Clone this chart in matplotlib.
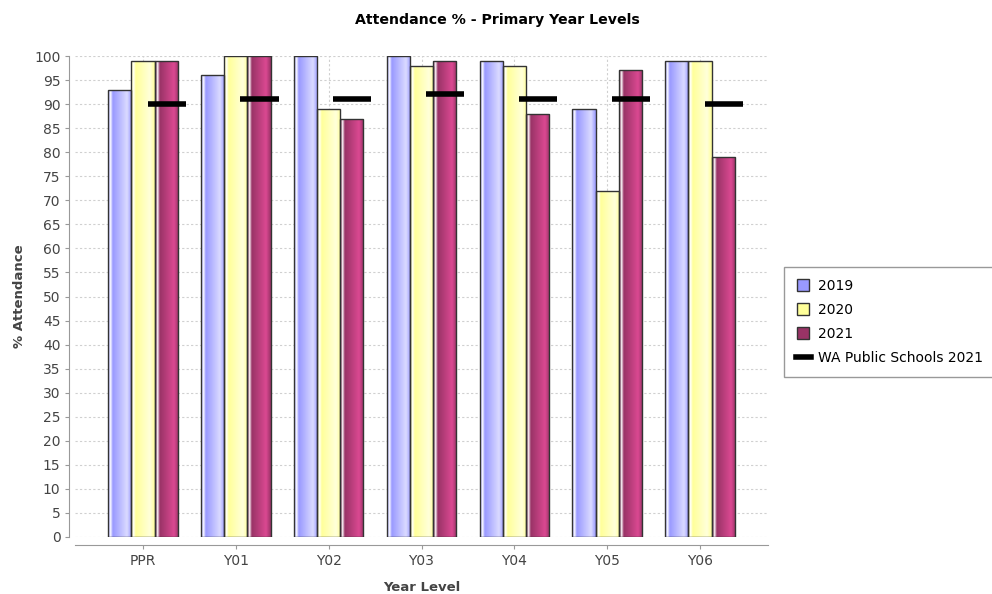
import numpy as np
import matplotlib
matplotlib.use("Agg")
import matplotlib.pyplot as plt
from matplotlib.lines import Line2D
from matplotlib.colors import to_rgb

# data
yearLevels = ["PPR", "Y01", "Y02", "Y03", "Y04", "Y05", "Y06"]
att2019 = [93, 96, 100, 100, 99, 89, 99]
att2020 = [99, 100, 89, 98, 98, 72, 99]
att2021 = [99, 100, 87, 99, 88, 97, 79]
waPublic2021 = [90, 91, 91, 92, 91, 91, 90]

seriesNames = ["2019", "2020", "2021"]
seriesColors = ["#9999FF", "#FFFF99", "#993366"]

plt.rcParams["font.family"] = ["DejaVu Sans"]


def brighter(c):
    # same idea as java.awt.Color.brighter()
    return tuple(min(v / 0.7, 1.0) for v in c)


def gradientStrip(color, n=100):
    c0 = np.array(to_rgb(color))
    c1 = np.array(brighter(c0))
    white = np.ones(3)
    t = np.linspace(0, 1, n)
    out = np.zeros((1, n, 3))
    for i, f in enumerate(t):
        if f < 0.1:
            k = f / 0.1
            col = c0 + (white - c0) * k
        elif f < 0.2:
            k = (f - 0.1) / 0.1
            col = white + (c0 - white) * k
        elif f < 0.8:
            k = (f - 0.2) / 0.6
            col = c0 + (c1 - c0) * k
        else:
            k = (f - 0.8) / 0.2
            col = c1 + (c0 - c1) * k
        out[0, i] = col
    return out


fig = plt.figure(figsize=(9.92, 5.94), dpi=100)
ax = fig.add_axes([75 / 992, 1 - 537 / 594, (768 - 75) / 992, (537 - 56) / 594])

x = np.arange(len(yearLevels))
width = 0.25
allSeries = [att2019, att2020, att2021]
for i, vals in enumerate(allSeries):
    rects = ax.bar(x + (i - 1) * width, vals, width, facecolor="none",
                   edgecolor="#333333", linewidth=1.0, zorder=3)
    strip = gradientStrip(seriesColors[i])
    for r in rects:
        im = ax.imshow(strip, extent=[r.get_x(), r.get_x() + r.get_width(), 0, r.get_height()],
                       aspect="auto", zorder=2.5, interpolation="bilinear")
        im.set_clip_path(r)

# WA public schools level marks
for i, v in enumerate(waPublic2021):
    ax.plot([x[i] + 0.05, x[i] + 0.46], [v, v], color="black", linewidth=4,
            solid_capstyle="butt", zorder=4)

ax.set_xlim(-0.733, 6.733)
ax.set_ylim(0, 100)
ax.set_yticks(np.arange(0, 101, 5))
ax.set_xticks(x)
ax.set_xticklabels(yearLevels)

ax.grid(True, axis="both", color="#d0d0d0", linestyle=(0, (2, 2)), linewidth=0.8, zorder=0)
ax.set_axisbelow(True)

for s in ["top", "right"]:
    ax.spines[s].set_visible(False)
ax.spines["left"].set_position(("outward", 4))
ax.spines["bottom"].set_position(("outward", 6))
ax.spines["left"].set_color("#999999")
ax.spines["bottom"].set_color("#999999")
ax.tick_params(axis="both", colors="#999999", labelcolor="#444444", labelsize=10, length=3)

ax.set_ylabel("% Attendance", fontsize=9.5, fontweight="bold", color="#444444", labelpad=6)
ax.set_xlabel("Year Level", fontsize=9.5, fontweight="bold", color="#444444", labelpad=9)
fig.suptitle("Attendance % - Primary Year Levels", fontsize=10.2, fontweight="bold",
             x=497 / 992, y=1 - 20 / 594, va="center")

handles = []
for i, name in enumerate(seriesNames):
    handles.append(Line2D([], [], linestyle="none", marker="s", markersize=8,
                          markerfacecolor=seriesColors[i], markeredgecolor="#333333"))
handles.append(Line2D([], [], color="black", linewidth=4))
leg = fig.legend(handles, seriesNames + ["WA Public Schools 2021"],
                 loc="upper left", bbox_to_anchor=(784 / 992, 1 - 267 / 594),
                 borderaxespad=0, fancybox=False, fontsize=10, handlelength=1.1,
                 handletextpad=0.5, labelspacing=0.72, borderpad=0.85, framealpha=1)
leg.get_frame().set_edgecolor("#999999")
leg.get_frame().set_linewidth(1.0)

fig.savefig("out.png", dpi=100)
